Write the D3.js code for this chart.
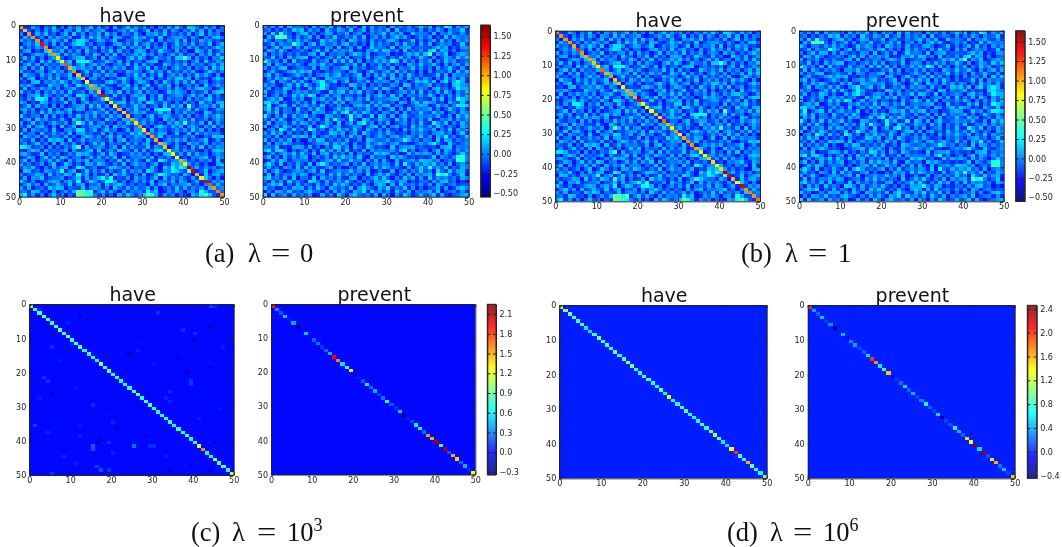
<!DOCTYPE html>
<html>
<head>
<meta charset="utf-8">
<script src="https://cdnjs.cloudflare.com/ajax/libs/d3/7.8.5/d3.min.js"></script>
<style>
  html, body { margin: 0; padding: 0; background: #fff; }
  svg { display: block; }
  .tick text { font-family: "DejaVu Sans", sans-serif; font-size: 8px; }
  .axis { color: #222; }
  .title { font-family: "DejaVu Sans", sans-serif; font-size: 19px; fill: #111; text-anchor: middle; }
  .caption { font-family: "Liberation Serif", serif; font-size: 26.5px; fill: #111; }
</style>
</head>
<body>
<svg id="chart" width="1062" height="547"></svg>
<script>
// cell level code: value = -0.29 + 0.05 * level (base 36 digit)
var haveRows = [
"7328516492 6174835927 3618259474 7251638495 2a96384715",
"3941627385 1762948356 8213574962 4916382751 6493817265",
"6172849351 5829371648 2947165383 1768492536 3815927461",
"2859361748 6471283959 4618732596 8352914677 5274163895",
"8463127596 3916aa7248 7359126486 2491736582 9163857342",
"1574936281 7248a93615 5127846393 6835172494 7382649158",
"9263758146 4915367282 8361492757 3926481575 1847253696",
"3781429565 8263719451 6492835178 7153964283 5119638247",
"6125873949 2847516396 1739264585 9472615838 2561748394",
"4938261576 5136892471 8275316949 6138547299 e827361659",
"7256194838 3691bbc724 4963817255 2789146353 6158293476",
"2693817454 8172593684 7315649282 8351296474 9274615838",
"5817392646 1439685729 2648571396 4927361585 3716482959",
"8342671595 7268149353 9172438665 1594728363 7482159636",
"1965284737 4591736286 3857126494 8263915747 2639584171",
"6279153848 2385941672 6143795287 3681527499 5817342696",
"3418926575 9627518343 2796384158 7416295383 8392571464",
"7584132966 3842a67195 8431659272 5923748161 4627193585",
"2916485737 1568327949 3752186494 9361547285 2748965137",
"9352716484 7293461856 1684927358 2745139686 5163482799",
"4167938525 3851a96274 7429351686 8163924577 3594718262",
"5273bb9164 8176294135 9863271549 9173826455 1826479353",
"8614297353 4927158364 5136892747 2a95384162 7351946288",
"3592846171 6135782949 2718463595 7146293858 1f52674839",
"6847153926 2694871535 8263517494 3719bbc264 5928461376",
"1726394858 7481326595 4917253686 8235947163 8463197254",
"9435618272 5163947382 6384719255 1692587347 2715384696",
"2681957343 8319627454 1956287374 6483195726 7392461585",
"7149362585 4716f83926 7241639585 8362417595 e463819274",
"5392784161 9258143677 3819574262 2417963858 1685274936",
"3817546292 1674a93582 5946138277 9183652474 7394826151",
"8256193474 6391784523 8172543969 5264871391 3918475662",
"1964728355 3825169747 2693815476 7185926343 6472153989",
"6438152979 7192483656 4381792565 2936147585 8254691373",
"4725936181 8537261494 9164528373 6813495272 1957382646",
"ba83461725 2649e18357 6258193744 4927561383 5183926476",
"3169728454 5817346929 1473965282 8259a41673 7463152898",
"7852391646 1364978525 8296134757 3615289b47 2938461575",
"2486159373 9725614838 3749182565 7481536292 4165793286",
"5917264838 4183759266 6153928474 1942b83675 8352647192",
"8362471591 3962518749 7426391585 6258143979 4736251189",
"4759316284 7813b92461 2598637154 5384196b7c 9158374625",
"1983527646 c268149373 8162493757 2a84176b96 3f62491578",
"6245871936 4973c58162 3719584262 8137c96452 8516293784",
"3817692455 7145928368 b6c2437185 6259183747 4273895161",
"9526134787 2684c15973 5bc8261473 7391564828 6148293757",
"2694718358 5392681547 1847963525 4183792656 7935162484",
"7381452969 8154392676 2619538474 5827146393 8364729156",
"5629834171 4738ffbf26 9384172656 3b69127485 1672c83495",
"8b37261594 6153gfdb63 7251849636 9fc8274615 3186be9427"
];
var preventRows = [
"6372918465 5183749262 7461928355 1846372595 9163c92748",
"4815263979 2746195386 3925817464 8193465272 6385174592",
"7293d64158 9361487254 8157236469 3748129565 2916584373",
"1846fe5273 5827164933 6483915727 2695831474 7142938656",
"9516237484 7413958626 1974628353 7851349262 5829361747",
"3482715e96 1692845737 9362518474 5273946183 8147562393",
"6159384272 8534276191 4728139565 2916783454 3695814277",
"2873951646 4169382757 5813276949 8461925373 9b38726145",
"8164725393 3782915466 2697481355 7132586949 f275913686",
"5392618474 9146257383 8145392676 1638472595 2714863959",
"d746281935 6283571949 3927164858 5c92836174 8163957246",
"3918526474 1875946232 6492815373 7253186494 5941726838",
"7264891356 4391762558 9174623585 2816459373 6183594272",
"1583247969 7928153664 1783159426 8394725161 7256381949",
"6927413585 2615f84793 5369172848 4817395262 3492817565",
"1738596242 8493127656 7248631595 1956284737 5162947383",
"2591763848 3168b47925 9136482757 6283514979 4917a38b82",
"7462158393 9526b73814 2984715363 3751982646 8253419a76",
"4815397262 1849b62357 6172845939 8429163575 1794625b88",
"9236481575 7356219484 3859264171 5146738292 6382951748",
"8147263959 5b91483672 7425183696 2938165474 9516273848",
"3685912747 1275846393 8137492565 6782419353 2849163c97",
"9a68152473 6291473858 1596327484 3518726949 7624185393",
"5c14792836 8463915272 4172693858 9265134787 1395726ba9",
"7a38265194 3749612585 9635184272 4817293656 8261495373",
"2849165373 5186724939 b284963517 6371825494 3957146286",
"b517392846 9362187451 4c58236197 2816943575 6483271959",
"6283941575 1847293c65 2c41973586 5294816373 9126583747",
"3916572848 7362485191 5829c47163 8145726393 2b74916385",
"8147396252 4915c73682 3476158929 1683529474 7395264186",
"1572c83946 2c83617495 7394185262 6241837595 4816392757",
"7395816242 6174239858 1582963474 8923516474 2678461593",
"4628153979 8391574626 3947162585 2714685393 7185b36249",
"9263748151 1749825363 8236197545 7351b84626 5192873646",
"2817596343 1246793858 5172384696 4683912575 8b63194257",
"6549132787 3825163a94 7185296343 1926748353 3417892656",
"8b39a61525 7162948383 9243817565 5738b29146 1592863747",
"1472685939 5391782646 2816453979 7351294868 6283741595",
"5926183747 8146372959 6739218455 1968534272 4917536cd6",
"1384972565 6251478393 4956173828 3182567494 8571463ec6",
"7a62915384 2918b73546 8163925747 6291b53858 3946281575",
"4835176292 9473268151 1528673949 7463182595 d274915386",
"8259413676 3682914575 5947381262 2815736494 61f5394782",
"2917365848 7135628494 7364192585 9426381757 83ffd62591",
"7a46382915 5291846373 2781536949 4163958272 9375146286",
"5183729464 1a96283574 9425163878 b638714255 2748965131",
"3697a15283 6418372959 6253841797 1829456373 7186259344",
"9451263878 2739518646 3917a64285 a364927151 4582713996",
"1628749353 7954162838 4186a29573 7295381646 8391456272",
"a193572846 4712836195 2795463818 5173962484 6928314575"
];
var diagA = [1.0,.95,1.05,1.05,1.05,1.4,1.05,1.0,1.05,.85,.85,1.2,1.0,1.05,.95,.95,.8,1.0,1.1,.95,1.4,.8,.85,.85,1.0,.9,.95,1.05,.85,1.05,.85,1.05,1.05,1.0,1.0,.95,.85,.85,.8,1.0,.85,1.55,1.45,1.0,.85,1.45,1.2,1.05,1.1,1.05];
var diagB = [1.05,1.05,1.05,1.05,1.0,1.3,1.05,1.0,1.05,.95,.85,1.15,1.0,1.05,.95,.95,.85,1.0,1.05,1.0,1.4,.8,.8,.8,.95,.9,1.15,1.0,.85,1.05,.85,1.0,1.05,1.05,1.0,.85,.8,.95,.9,.8,.9,1.55,1.45,1.0,.8,1.45,1.05,1.1,1.05,1.1];
var diagCHave = [1.1,.8,.85,.9,.8,.75,.8,.85,.8,.95,.75,.85,.85,.7,.75,.7,.65,1.0,.8,.85,.75,.75,.7,.75,.75,.8,.9,.75,.8,.85,.75,.75,.75,.7,.75,.7,.75,.75,.8,.7,.75,1.1,1.6,.7,.7,1.0,.85,.85,.7,1.1];
var diagCPrevent = [1.85,.35,.2,.5,.05,.4,-.3,0,.5,0,.25,.3,.12,.25,.45,1.95,1.6,.55,.75,1.35,-.2,.05,.2,.6,.25,.45,.15,.3,.7,.2,.1,.5,-.3,.05,.15,.6,.65,.25,1.55,1.5,2.2,.75,2.15,.2,1.5,1.4,.25,.45,.1,1.3];
var diagDHave = [1.25,1.05,1.0,.85,.8,.85,.6,.55,.85,1.0,.8,.85,.8,.95,.75,.85,1.0,1.0,.75,.75,.85,.85,.75,.7,.9,.7,1.25,.7,.75,.85,.85,.75,.7,.7,.8,.75,.95,1.1,.95,.6,.55,1.4,1.95,.85,.75,1.6,1.0,.8,.75,1.0];
var diagDPrevent = [1.95,.4,.2,.5,.1,.35,-.35,0,.45,-.05,.3,.4,.1,.2,.55,1.95,1.7,.6,.8,1.55,-.1,.1,.25,.55,.2,.45,.1,.3,.7,.2,.1,.55,-.35,.1,.15,.7,.45,.2,1.5,1.3,2.4,.55,2.35,.15,1.45,1.6,.25,.5,.1,1.5];
// background of the "prevent" panels in (a) and (b) runs through the diagonal as well
var diagPlain = [.05,0,.2,.4,0,-.05,.1,-.1,.02,.12,-.15,.05,.1,-.12,.02,.12,.02,-.1,.05,.15,-.05,.05,.02,.12,-.12,.05,.2,-.1,.02,.1,.05,-.05,.12,.02,-.15,.05,.02,.1,-.1,.12,.02,-.05,.2,.25,.05,-.1,.02,.1,.05,.12];
// visible off-diagonal cells of the lambda = 1000 "have" matrix: row, col, value
var cHaveSpots = [[6,44,-.25],[14,24,-.2],[41,15,.22],[42,15,.2],[41,25,.28],[35,1,.15],[21,3,.12],[22,4,.1],[26,5,-.15],[4,21,-.12],[3,12,-.12],[8,40,.1],[10,40,-.12],[12,5,.1],[15,36,-.1],[18,43,-.15],[18,44,-.1],[19,38,-.12],[22,39,.12],[23,39,.12],[29,15,.1],[30,19,-.15],[32,4,-.1],[34,20,.08],[36,21,-.12],[38,12,.08],[39,17,-.12],[40,16,-.2],[40,19,.1],[41,29,.1],[41,30,.1],[40,45,-.2],[47,16,.15],[48,17,.2],[48,19,.12],[48,34,-.15],[47,39,-.1],[48,44,-.15],[49,5,.12],[44,8,.1],[43,20,.08],[1,2,.08],[0,44,.15],[0,45,.1],[2,31,.1],[7,37,.1],[11,10,.08],[13,26,.08],[25,34,.1],[27,33,.08],[28,34,.08],[37,4,.1],[5,9,.05],[9,27,-.06],[16,7,.05],[17,30,.05],[20,22,-.06],[24,11,.05],[31,8,-.05],[33,41,.06],[38,28,-.06],[44,33,.06],[46,11,.06],[45,24,-.05],[12,47,.06],[2,18,-.05],[30,46,.05],[35,12,.06],[21,44,-.06],[27,2,.05]];

var cbTicksAB = [-.5,-.25,0,.25,.5,.75,1,1.25,1.5];
var cbTicksC = [-.3,0,.3,.6,.9,1.2,1.5,1.8,2.1];
var cbTicksD = [-.4,0,.4,.8,1.2,1.6,2,2.4];
var axisTicks = [0,10,20,30,40,50];

var svg = d3.select("#chart");
var g = svg.append("g").style("filter", "blur(0.3px)");

var jetStops = [
  [0, "#00007f"], [.125, "#0000ff"], [.375, "#00ffff"],
  [.625, "#ffff00"], [.875, "#ff0000"], [1, "#7f0000"]
];
function jet(lo, hi) {
  return d3.scaleLinear()
    .domain(jetStops.map(function(s) { return lo + s[0] * (hi - lo); }))
    .range(jetStops.map(function(s) { return s[1]; }))
    .clamp(true);
}

// builds the flat list of cells for one matrix
function cells(rows, diag, bg, spots) {
  var out = [];
  for (var r = 0; r < 50; r++) {
    var txt = rows ? rows[r].replace(/ /g, "") : "";
    for (var c = 0; c < 50; c++) {
      var v = bg;
      if (rows && c < txt.length) v = -0.29 + 0.05 * parseInt(txt[c], 36);
      if (r == c) v = diag[r];
      out.push({r: r, c: c, v: v});
    }
  }
  (spots || []).forEach(function(s) { out[s[0] * 50 + s[1]].v = s[2]; });
  return out;
}

function heatmap(box, data, color, title, titleY) {
  var x = d3.scaleLinear().domain([0, 50]).range([box[0], box[1]]);
  var y = d3.scaleLinear().domain([0, 50]).range([box[2], box[3]]);
  g.append("g").selectAll("rect").data(data).enter().append("rect")
    .attr("x", function(d) { return x(d.c); })
    .attr("y", function(d) { return y(d.r); })
    .attr("width", function(d) { return x(d.c + 1) - x(d.c); })
    .attr("height", function(d) { return y(d.r + 1) - y(d.r); })
    .attr("shape-rendering", "crispEdges")
    .attr("fill", function(d) { return color(d.v); });

  var fmt = d3.format("d");
  g.append("g").attr("class", "axis").attr("transform", "translate(0," + box[3] + ")")
    .call(d3.axisBottom(x).tickValues(axisTicks).tickFormat(fmt).tickSize(-3).tickPadding(2.5).tickSizeOuter(0));
  g.append("g").attr("class", "axis").attr("transform", "translate(" + box[0] + ",0)")
    .call(d3.axisLeft(y).tickValues(axisTicks).tickFormat(fmt).tickSize(-3).tickPadding(3).tickSizeOuter(0));
  g.append("g").attr("class", "axis").attr("transform", "translate(0," + box[2] + ")")
    .call(d3.axisTop(x).tickValues(axisTicks).tickFormat("").tickSize(-3).tickSizeOuter(0));
  g.append("g").attr("class", "axis").attr("transform", "translate(" + box[1] + ",0)")
    .call(d3.axisRight(y).tickValues(axisTicks).tickFormat("").tickSize(-3).tickSizeOuter(0));

  g.append("text").attr("class", "title")
    .attr("x", (box[0] + box[1]) / 2 + 1.2).attr("y", titleY).text(title);
}

function colorbar(box, color, lo, hi, ticks, f) {
  var y = d3.scaleLinear().domain([lo, hi]).range([box[3], box[2]]);
  var levels = d3.range(box[2], box[3], 1);
  g.append("g").selectAll("rect").data(levels).enter().append("rect")
    .attr("x", box[0]).attr("y", function(d) { return d; })
    .attr("width", box[1] - box[0]).attr("height", 1.2)
    .attr("fill", function(d) { return color(y.invert(d + .5)); });
  g.append("g").attr("class", "axis").attr("transform", "translate(" + box[1] + ",0)")
    .call(d3.axisRight(y).tickValues(ticks).tickFormat(d3.format(f)).tickSize(-3).tickPadding(3.5).tickSizeOuter(0));
  g.append("g").attr("class", "axis").attr("transform", "translate(" + box[0] + ",0)")
    .call(d3.axisLeft(y).tickValues(ticks).tickFormat("").tickSize(-3).tickSizeOuter(0));
  g.append("rect").attr("x", box[0]).attr("y", box[2])
    .attr("width", box[1] - box[0]).attr("height", box[3] - box[2])
    .attr("fill", "none").attr("stroke", "#222");
}

// x holds the start of the label, the lambda, the equals sign and the value
function caption(x, y, label, value, sup) {
  var t = g.append("text").attr("class", "caption").attr("y", y);
  t.append("tspan").attr("x", x[0]).text(label);
  t.append("tspan").attr("x", x[1]).text("λ");
  t.append("tspan").attr("x", x[3]).text(value);
  if (sup) t.append("tspan").attr("dy", -10).attr("font-size", 18).text(sup);
  // the equals sign of the formula is wider than the serif one
  g.append("text").attr("class", "caption")
    .attr("transform", "translate(" + x[2] + "," + (y - 0.5) + ") scale(1.3,1)")
    .text("=");
}

// (a)
var colA = jet(-.55, 1.64);
heatmap([19, 224, 25.3, 196.7], cells(haveRows, diagA), colA, "have", 22);
heatmap([262.7, 468.7, 25, 196.7], cells(preventRows, diagPlain), colA, "prevent", 22);
colorbar([480.7, 490, 25, 197], colA, -.55, 1.64, cbTicksAB, ".2f");
caption([205, 248, 271, 300], 262, "(a)", "0");

// (b)
var colB = jet(-.55, 1.64);
heatmap([555.3, 760, 30.7, 201.3], cells(haveRows, diagB), colB, "have", 27);
heatmap([799, 1003.7, 30.7, 201.3], cells(preventRows, diagPlain), colB, "prevent", 27);
colorbar([1015.7, 1024.7, 30.7, 201.3], colB, -.55, 1.64, cbTicksAB, ".2f");
caption([741, 785, 808, 838], 262, "(b)", "1");

// (c)
var colC = jet(-.34, 2.25);
heatmap([29.3, 233.7, 304.3, 475], cells(null, diagCHave, 0, cHaveSpots), colC, "have", 300.7);
heatmap([271, 475.3, 304.3, 474.5], cells(null, diagCPrevent, 0), colC, "prevent", 300.7);
colorbar([487.3, 496, 304.3, 474.5], colC, -.34, 2.25, cbTicksC, ".1f");
caption([191, 232, 257, 287], 541, "(c)", "10", "3");

// (d)
var colD = jet(-.445, 2.46);
heatmap([559.3, 766.7, 305.3, 478.3], cells(null, diagDHave, 0), colD, "have", 302);
heatmap([807.7, 1014.7, 305.3, 478.3], cells(null, diagDPrevent, 0), colD, "prevent", 302);
colorbar([1027.3, 1036.7, 305.3, 478.3], colD, -.445, 2.46, cbTicksD, ".1f");
caption([727, 770, 793, 823], 541, "(d)", "10", "6");
</script>
</body>
</html>
